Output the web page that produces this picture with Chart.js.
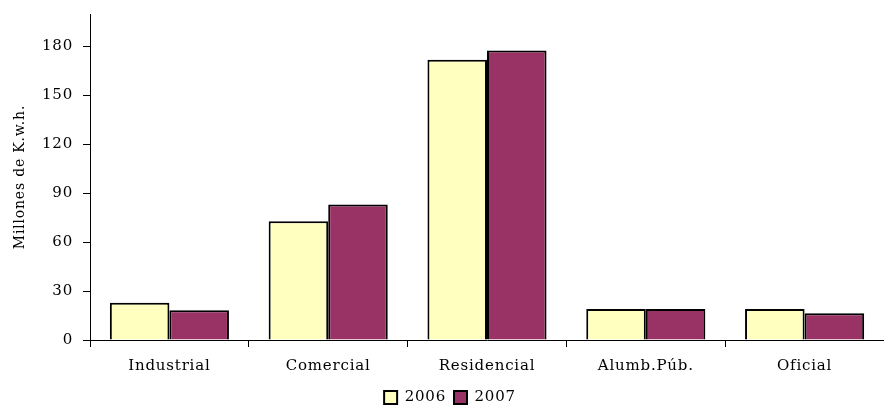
<!DOCTYPE html>
<html lang="es">
<head>
    <meta charset="UTF-8">
    <title>Consumo de energía</title>
    <script src="https://cdn.jsdelivr.net/npm/chart.js"></script>
    <style>
        html, body { margin: 0; padding: 0; background: #fff; overflow: hidden; }
        .wrap { width: 884px; height: 407px; position: relative; }
    </style>
</head>
<body>
    <div class="wrap"><canvas id="chart"></canvas></div>
    <script>
    // Datos (millones de kWh)
    const categories = ['Industrial', 'Comercial', 'Residencial', 'Alumb.Púb.', 'Oficial'];
    const values2006 = [22.8, 72.9, 172.0, 19.0, 19.0];
    const values2007 = [18.2, 83.2, 177.6, 19.0, 16.4];
    const seriesLabels = ['2006', '2007'];
    const yTicks = [0, 30, 60, 90, 120, 150, 180];

    const serif = '"DejaVu Serif", "Liberation Serif", serif';

    // letra algo espaciada, como la fuente del original
    const spacing = {
        id: 'spacing',
        beforeLayout(chart) { chart.ctx.letterSpacing = '0.8px'; },
        beforeDraw(chart) { chart.ctx.letterSpacing = '0.8px'; }
    };

    new Chart(document.getElementById('chart'), {
        type: 'bar',
        data: {
            labels: categories,
            datasets: [
                {
                    label: seriesLabels[0],
                    data: values2006,
                    backgroundColor: '#FFFFC0',
                    borderColor: '#000',
                    borderWidth: 2
                },
                {
                    label: seriesLabels[1],
                    data: values2007,
                    backgroundColor: '#993366',
                    borderColor: '#000',
                    borderWidth: 2
                }
            ]
        },
        plugins: [spacing],
        options: {
            responsive: true,
            maintainAspectRatio: false,
            animation: false,
            datasets: {
                bar: { barPercentage: 1, categoryPercentage: 0.75 }
            },
            layout: { padding: { top: 14, right: 0, left: 16, bottom: -8 } },
            plugins: {
                tooltip: { enabled: false },
                legend: {
                    position: 'bottom',
                    labels: {
                        font: { family: serif, size: 15 },
                        color: '#000',
                        boxWidth: 13,
                        boxHeight: 13,
                        padding: 8
                    }
                }
            },
            scales: {
                x: {
                    grid: {
                        offset: true,
                        drawOnChartArea: false,
                        drawTicks: true,
                        tickLength: 7,
                        color: '#000'
                    },
                    border: { color: '#000', width: 1 },
                    ticks: {
                        font: { family: serif, size: 15 },
                        color: '#000',
                        padding: 10,
                        maxRotation: 0
                    },
                    afterFit: function (scale) {
                        scale.height = 42;
                        scale.paddingLeft = 0;
                        scale.paddingRight = 0;
                    }
                },
                y: {
                    min: 0,
                    max: 200,
                    afterBuildTicks: function (scale) {
                        scale.ticks = yTicks.map(v => ({ value: v }));
                    },
                    grid: {
                        drawOnChartArea: false,
                        drawTicks: true,
                        tickLength: 7,
                        color: '#000'
                    },
                    border: { color: '#000', width: 1 },
                    ticks: {
                        font: { family: serif, size: 15 },
                        color: '#000',
                        padding: 10
                    },
                    title: {
                        display: true,
                        text: 'Millones de K.w.h.',
                        font: { family: serif, size: 14 },
                        color: '#000',
                        padding: { top: -4, bottom: 0 }
                    },
                    afterFit: function (scale) {
                        scale.width = 74;
                        scale.paddingTop = 0;
                        scale.paddingBottom = 0;
                    }
                }
            }
        }
    });
    </script>
</body>
</html>
